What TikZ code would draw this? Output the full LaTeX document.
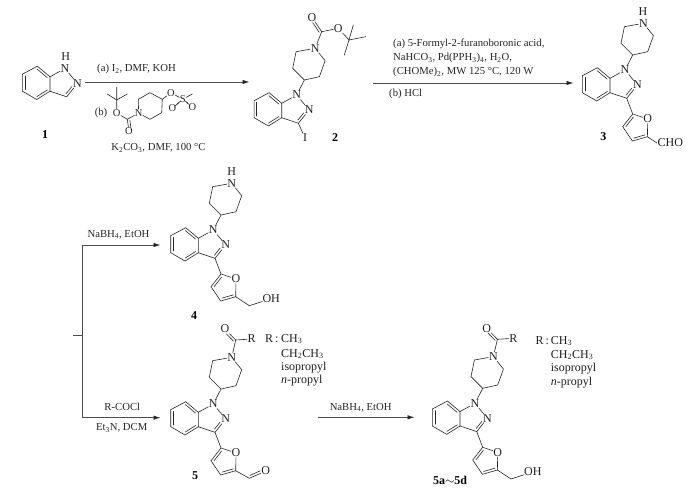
\documentclass[tikz,border=0pt]{standalone}
\usepackage{fontspec}
\setmainfont{Liberation Serif}
\usetikzlibrary{calc,arrows.meta}
\tikzset{
  atom/.style={inner sep=0.5pt,font=\fontsize{12}{13}\selectfont,text=black!88},
  small/.style={inner sep=0.3pt,font=\fontsize{10.5}{12}\selectfont,text=black!85},
  txt/.style={inner sep=0pt,font=\fontsize{10.7}{12}\selectfont,text=black!85},
  lbl/.style={inner sep=0pt,font=\fontsize{12}{13}\selectfont\bfseries,text=black},
  bond/.style={line width=0.6pt,draw=black!85,line cap=round},
  rxn/.style={line width=0.85pt,draw=black!70},
  rxnarrow/.style={rxn,-{Latex[length=7pt,width=4.5pt,black!85]}}
}
\newcommand{\dbl}[5]{\draw[bond] ($(#1)!#4!(#2)!2.4pt!#3:(#2)$) -- ($(#1)!#5!(#2)!2.4pt!#3:(#2)$);}
% indazole core, relative to N1
\newcommand{\indcore}{%
  \node[atom] (N1) at (0,0) {N};
  \node[atom] (N2) at (12.4,15) {N};
  \coordinate (C3) at (1.7,28.3);
  \coordinate (C3a) at (-15,22.7);
  \coordinate (C7a) at (-15,8.3);
  \coordinate (C7) at (-27.6,-2.3);
  \coordinate (C6) at (-42.6,5.7);
  \coordinate (C5) at (-42.6,22.7);
  \coordinate (C4) at (-28.3,31);
  \draw[bond] (N1) -- (N2);
  \draw[bond] (N2) -- (C3) -- (C3a) -- (C7a) -- (N1);
  \draw[bond] (C7a) -- (C7) -- (C6) -- (C5) -- (C4) -- (C3a);
  \dbl{C6}{C5}{90}{.1}{.9}
  \dbl{C4}{C3a}{90}{.1}{.9}
  \dbl{C7a}{C7}{90}{.1}{.9}
  \dbl{C3}{N2}{90}{.12}{.66}
}
% piperidine on N1
\newcommand{\pipcore}[1]{%
  \coordinate (P4) at (7.7,-15);
  \coordinate (P3) at (-4,-26.7);
  \coordinate (P2) at (-0.6,-43.3);
  \node[atom] (PN) at (18.4,-46.7) {#1};
  \coordinate (P6) at (28.4,-34.3);
  \coordinate (P5) at (22.7,-18.3);
  \draw[bond] (N1) -- (P4) -- (P3) -- (P2) -- (PN) -- (P6) -- (P5) -- (P4);
}
% furan on C3
\newcommand{\furcore}{%
  \coordinate (F2) at (7.7,44);
  \node[atom] (FO) at (22.7,49) {O};
  \coordinate (F5) at (22.4,66.7);
  \coordinate (F4) at (7.4,71);
  \coordinate (F3) at (-2.3,56.7);
  \draw[bond] (C3) -- (F2) -- (FO) -- (F5) -- (F4) -- (F3) -- (F2);
  \dbl{F2}{F3}{90}{.12}{.88}
  \dbl{F4}{F5}{90}{.12}{.88}
}
% hydroxymethyl on F5
\newcommand{\hmcore}{%
  \coordinate (CH) at (36,75.7);
  \node[atom,anchor=west] (OH) at (48.5,68.5) {OH};
  \draw[bond] (F5) -- (CH) -- ($(OH.west)+(0.5,3)$);
}
% N-acyl on PN
\newcommand{\acylcore}{%
  \coordinate (AC) at (22.4,-64);
  \node[atom] (AO) at (11.7,-75) {O};
  \node[atom] (AR) at (38.4,-65) {R};
  \draw[bond] (PN) -- (AC) -- (AR);
  \draw[bond] (AC) -- (AO);
  \dbl{AC}{AO}{90}{.05}{.72}
}
\begin{document}
\begin{tikzpicture}[x=1pt,y=-1pt]
\useasboundingbox (0,0) rectangle (700,503);
\fill[white] (0,0) rectangle (700,503);

% compound 1
\begin{scope}[shift={(65,68.5)},name prefix=a-]
  \indcore
  \node[atom] (H) at (0.7,-11.8) {H};
\end{scope}
\node[lbl] (l1) at (45,135) {1};

% compound 2
\begin{scope}[shift={(296.7,95)},name prefix=b-]
  \indcore
  \pipcore{N}
  \node[atom] (I) at (8.3,43) {I};
  \draw[bond] (C3) -- (I);
  \coordinate (BC) at (25,-63.3);
  \node[atom] (BO) at (15.3,-77.7) {O};
  \node[atom] (BE) at (41.6,-66.7) {O};
  \coordinate (BQ) at (52.3,-55);
  \coordinate (B1) at (56.6,-70);
  \coordinate (B2) at (69,-58.3);
  \coordinate (B3) at (47.6,-40);
  \draw[bond] (PN) -- (BC) -- (BE) -- (BQ) -- (B1);
  \draw[bond] (BC) -- (BO);
  \dbl{BC}{BO}{90}{.05}{.72}
  \draw[bond] (BQ) -- (B2);
  \draw[bond] (BQ) -- (B3);
\end{scope}
\node[lbl] (l2) at (335,138) {2};

% compound 3
\begin{scope}[shift={(625,70)},name prefix=c-]
  \indcore
  \pipcore{N}
  \node[atom] (H) at (18,-58.5) {H};
  \furcore
  \node[atom,anchor=west] (CHO) at (32,73) {CHO};
  \draw[bond] (F5) -- (CHO.west);
\end{scope}
\node[lbl] (l3) at (603.3,136.7) {3};

% compound 4
\begin{scope}[shift={(213.3,230)},name prefix=d-]
  \indcore
  \pipcore{N}
  \node[atom] (H) at (18.4,-58) {H};
  \furcore
  \hmcore
\end{scope}
\node[lbl] (l4) at (194,315.7) {4};

% compound 5
\begin{scope}[shift={(213.3,404)},name prefix=e-]
  \indcore
  \pipcore{N}
  \furcore
  \acylcore
  \coordinate (CH) at (36,74.3);
  \node[atom] (AL) at (52.5,67) {O};
  \draw[bond] (F5) -- (CH) -- (AL);
  \dbl{CH}{AL}{90}{.1}{.72}
\end{scope}
\node[lbl] (l5) at (195,476) {5};

% compound 5a-5d
\begin{scope}[shift={(475,403.3)},name prefix=f-]
  \indcore
  \pipcore{N}
  \furcore
  \hmcore
  \acylcore
\end{scope}
\node[lbl] (l6) at (450,480) {5a$\sim$5d};

% reagent in first arrow
\begin{scope}[name prefix=r-]
  \coordinate (Q) at (116.7,100);
  \coordinate (M1) at (107.3,94);
  \coordinate (M2) at (127.3,94);
  \coordinate (M3) at (116.7,87.3);
  \node[small] (O1) at (116.7,113) {O};
  \coordinate (CC) at (127.3,119.3);
  \node[small] (O2) at (129,131.5) {O};
  \node[small] (RN) at (138.6,113) {N};
  \coordinate (R2) at (138.3,99.3);
  \coordinate (R3) at (150,92.7);
  \coordinate (R4) at (162.3,99.3);
  \coordinate (R5) at (161.7,112.7);
  \coordinate (R6) at (150,119.3);
  \node[small] (O3) at (171,92.7) {O};
  \node[small] (S) at (182.7,99.3) {S};
  \coordinate (Me) at (192.3,94);
  \node[small] (O4) at (172.3,108.3) {O};
  \node[small] (O5) at (192.3,106.7) {O};
  \draw[bond] (M1) -- (Q) -- (M2);
  \draw[bond] (M3) -- (Q) -- (O1) -- (CC) -- (RN);
  \draw[bond] (CC) -- (O2);
  \dbl{CC}{O2}{90}{.1}{.7}
  \draw[bond] (RN) -- (R2) -- (R3) -- (R4) -- (R5) -- (R6) -- (RN);
  \draw[bond] (R4) -- (O3) -- (S) -- (Me);
  \draw[bond,shorten <=-0.5pt,shorten >=-0.5pt,transform canvas={shift={(0.8pt,0.8pt)}}] (S) -- (O4);
  \draw[bond,shorten <=-0.5pt,shorten >=-0.5pt,transform canvas={shift={(-0.8pt,-0.8pt)}}] (S) -- (O4);
  \draw[bond,shorten <=-0.5pt,shorten >=-0.5pt,transform canvas={shift={(0.8pt,-0.8pt)}}] (S) -- (O5);
  \draw[bond,shorten <=-0.5pt,shorten >=-0.5pt,transform canvas={shift={(-0.8pt,0.8pt)}}] (S) -- (O5);
\end{scope}

% arrows
\coordinate (A1s) at (85,82);   \coordinate (A1e) at (249.5,82);
\coordinate (A2s) at (373,83);  \coordinate (A2e) at (573.5,83);
\coordinate (Bs) at (73,335.5); \coordinate (Bm) at (82,335.5);
\coordinate (Bt) at (82,245);   \coordinate (Bte) at (160.5,245);
\coordinate (Bb) at (82,417.7); \coordinate (Bbe) at (160.5,417.7);
\coordinate (A3s) at (318,417.3); \coordinate (A3e) at (414.5,417.3);
\draw[rxnarrow] (A1s) -- (A1e);
\draw[rxnarrow] (A2s) -- (A2e);
\draw[rxn] (Bs) -- (Bm);
\draw[rxnarrow] (Bb) -- (Bbe);
\draw[rxnarrow] (Bt) -- (Bte);
\draw[rxn] (Bt) -- (Bb);
\draw[rxnarrow] (A3s) -- (A3e);

% reaction text
\node[txt] (t1) at (136.5,69) {(a) I\textsubscript{2}, DMF, KOH};
\node[txt] (t2) at (101,113) {(b)};
\node[txt] (t3) at (158.5,148) {K\textsubscript{2}CO\textsubscript{3}, DMF, 100 °C};
\node[txt,anchor=west] (t4) at (393,44) {(a) 5-Formyl-2-furanoboronic acid,};
\node[txt,anchor=west] (t5) at (393,58) {NaHCO\textsubscript{3}, Pd(PPH\textsubscript{3})\textsubscript{4}, H\textsubscript{2}O,};
\node[txt,anchor=west] (t6) at (393,72) {(CHOMe)\textsubscript{2}, MW 125 °C, 120 W};
\node[txt,anchor=west] (t7) at (389,94) {(b) HCl};
\node[txt] (t8) at (118.5,234.5) {NaBH\textsubscript{4}, EtOH};
\node[txt] (t9) at (122.3,407.3) {R-COCl};
\node[txt] (t10) at (121.7,427.7) {Et\textsubscript{3}N, DCM};
\node[txt] (t11) at (360.7,407.3) {NaBH\textsubscript{4}, EtOH};

% R lists
\node[atom,anchor=west,inner sep=0pt] (u0) at (265,339) {R\,:};
\node[atom,anchor=west,inner sep=0pt] (u1) at (281,339) {CH\textsubscript{3}};
\node[atom,anchor=west,inner sep=0pt] (u2) at (281,354) {CH\textsubscript{2}CH\textsubscript{3}};
\node[atom,anchor=west,inner sep=0pt] (u3) at (281,367.3) {isopropyl};
\node[atom,anchor=west,inner sep=0pt] (u4) at (281,381) {\textit{n}-propyl};
\node[atom,anchor=west,inner sep=0pt] (v0) at (535.5,341) {R\,:};
\node[atom,anchor=west,inner sep=0pt] (v1) at (550.7,341) {CH\textsubscript{3}};
\node[atom,anchor=west,inner sep=0pt] (v2) at (550.7,355) {CH\textsubscript{2}CH\textsubscript{3}};
\node[atom,anchor=west,inner sep=0pt] (v3) at (550.7,368.7) {isopropyl};
\node[atom,anchor=west,inner sep=0pt] (v4) at (550.7,382.7) {\textit{n}-propyl};
\end{tikzpicture}
\end{document}
